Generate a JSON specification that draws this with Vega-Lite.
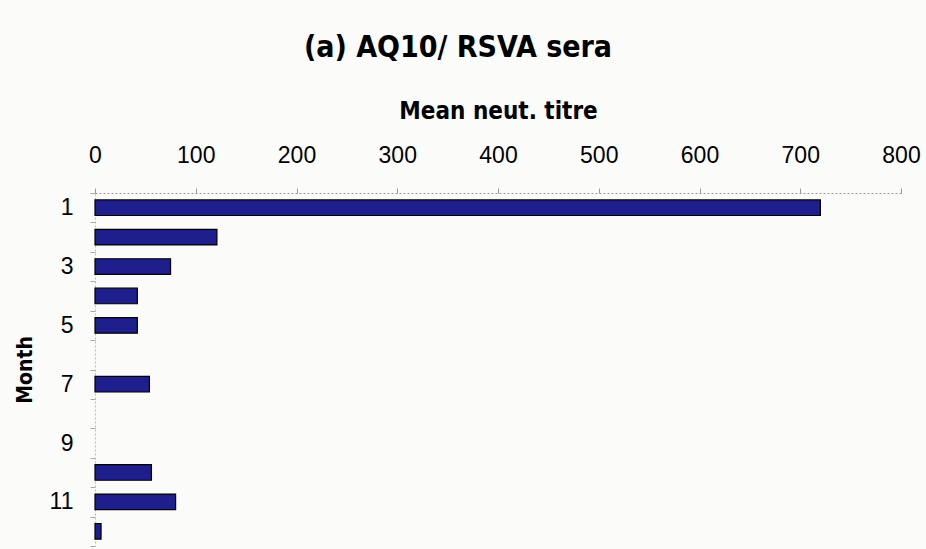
{
  "$schema": "https://vega.github.io/schema/vega-lite/v6.json",
  "width": 806,
  "height": 353,
  "autosize": "none",
  "padding": {"left": 95, "top": 193, "right": 25, "bottom": 3},
  "background": "#fbfbfa",
  "config": {"view": {"stroke": null}},
  "title": {
    "text": "(a) AQ10/ RSVA sera",
    "font": "Liberation Sans Narrow, DejaVu Sans Condensed, Liberation Sans",
    "fontSize": 30,
    "fontWeight": "bold",
    "color": "#000000",
    "anchor": "middle",
    "dx": -40,
    "offset": 36
  },
  "data": {
    "values": [
      {"month": 1, "titre": 720},
      {"month": 2, "titre": 121},
      {"month": 3, "titre": 75},
      {"month": 4, "titre": 42},
      {"month": 5, "titre": 42},
      {"month": 7, "titre": 54},
      {"month": 10, "titre": 56},
      {"month": 11, "titre": 80},
      {"month": 12, "titre": 6}
    ]
  },
  "mark": {"type": "bar", "fill": "#1e1e8c", "stroke": "#000000", "strokeWidth": 1.2, "height": {"band": 0.53}},
  "encoding": {
    "x": {
      "field": "titre",
      "type": "quantitative",
      "scale": {"domain": [0, 800], "nice": false, "zero": true},
      "axis": {
        "orient": "top",
        "title": "Mean neut. titre",
        "titleFont": "Liberation Sans Narrow, DejaVu Sans Condensed, Liberation Sans",
        "titleFontSize": 24,
        "titleFontWeight": "bold",
        "titleColor": "#000000",
        "titlePadding": 21,
        "values": [0, 100, 200, 300, 400, 500, 600, 700, 800],
        "labelFont": "Liberation Sans",
        "labelFontSize": 23,
        "labelColor": "#000000",
        "labelPadding": 21,
        "labelFlush": false,
        "labelOverlap": false,
        "tickSize": 5,
        "tickColor": "#999999",
        "domainColor": "#999999",
        "domainDash": [2, 2],
        "grid": false
      }
    },
    "y": {
      "field": "month",
      "type": "ordinal",
      "scale": {"domain": [1, 2, 3, 4, 5, 6, 7, 8, 9, 10, 11, 12], "paddingInner": 0, "paddingOuter": 0},
      "axis": {
        "title": "Month",
        "titleFont": "Liberation Sans Narrow, DejaVu Sans Condensed, Liberation Sans",
        "titleFontSize": 21,
        "titleFontWeight": "bold",
        "titleColor": "#000000",
        "titlePadding": 14,
        "labelExpr": "datum.value % 2 == 1 ? datum.label : ''",
        "labelFont": "Liberation Sans",
        "labelFontSize": 23,
        "labelColor": "#000000",
        "labelAngle": 0,
        "labelPadding": 17,
        "tickBand": "extent",
        "tickSize": 5,
        "tickColor": "#aaaaaa",
        "domainColor": "#bbbbbb",
        "domainDash": [2, 2],
        "grid": false
      }
    }
  }
}
